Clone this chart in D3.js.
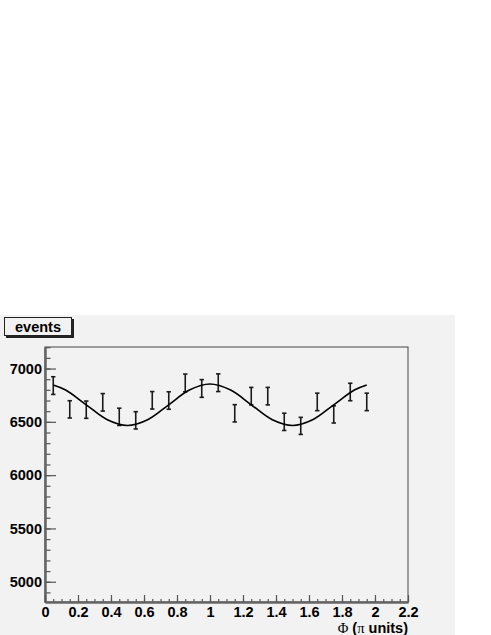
<!DOCTYPE html>
<html>
<head>
<meta charset="utf-8">
<script src="https://cdn.jsdelivr.net/npm/d3@7"></script>
<style>
  body { margin: 0; background: #fff; }
  text { font-family: "Liberation Sans", Arial, sans-serif; font-weight: bold; }
</style>
</head>
<body>
<script>
// data
const binCenters = [0.05, 0.15, 0.25, 0.35, 0.45, 0.55, 0.65, 0.75, 0.85, 0.95,
                    1.05, 1.15, 1.25, 1.35, 1.45, 1.55, 1.65, 1.75, 1.85, 1.95];
const events = [6840, 6617, 6614, 6683, 6547, 6514, 6702, 6700, 6865, 6813,
                6867, 6580, 6741, 6741, 6500, 6462, 6687, 6570, 6780, 6687];
const errors = [83, 81, 81, 82, 81, 81, 82, 82, 83, 83,
                83, 81, 82, 82, 81, 80, 82, 81, 82, 82];

// fitted curve
const fitX = [0.05, 0.125, 0.25, 0.375, 0.5, 0.625, 0.75, 0.875, 1.0,
              1.125, 1.25, 1.375, 1.5, 1.625, 1.75, 1.875, 1.95];
const fitY = [6845, 6798, 6660, 6522, 6465, 6522, 6660, 6798, 6855,
              6798, 6660, 6522, 6465, 6522, 6660, 6798, 6845];

const xTicks = [0, 0.2, 0.4, 0.6, 0.8, 1, 1.2, 1.4, 1.6, 1.8, 2, 2.2];
const yTicks = [5000, 5500, 6000, 6500, 7000];

// layout
const W = 491, H = 635;
const frame = {left: 45, right: 408, top: 347, bottom: 602};

const svg = d3.select("body").append("svg")
    .attr("width", W)
    .attr("height", H);

// pad
svg.append("rect")
    .attr("x", 0).attr("y", 315)
    .attr("width", 455).attr("height", 320)
    .attr("fill", "#f2f2f2");

var x = d3.scaleLinear().domain([0, 2.2]).range([frame.left, frame.right]);
var y = d3.scaleLinear().domain([4810, 7202]).range([frame.bottom, frame.top]);

// frame
svg.append("rect")
    .attr("x", frame.left).attr("y", frame.top)
    .attr("width", frame.right - frame.left)
    .attr("height", frame.bottom - frame.top)
    .attr("fill", "#f2f2f2")
    .attr("stroke", "#444")
    .attr("stroke-width", 1);

// y axis: minor then major
svg.append("g")
    .attr("class", "axis")
    .attr("transform", "translate(" + frame.left + ",0)")
    .call(d3.axisLeft(y).tickValues(d3.range(4900, 7201, 100)).tickSize(-5.5).tickSizeOuter(0).tickFormat(""));

svg.append("g")
    .attr("class", "axis")
    .attr("transform", "translate(" + frame.left + ",0)")
    .call(d3.axisLeft(y).tickValues(yTicks).tickSize(-11).tickSizeOuter(0).tickPadding(3)
        .tickFormat(d3.format("d")));

// x axis
svg.append("g")
    .attr("class", "axis")
    .attr("transform", "translate(0," + frame.bottom + ")")
    .call(d3.axisBottom(x).tickValues(d3.range(0, 2.2001, 0.05)).tickSize(-3).tickSizeOuter(0).tickFormat(""));

svg.append("g")
    .attr("class", "axis")
    .attr("transform", "translate(0," + frame.bottom + ")")
    .call(d3.axisBottom(x).tickValues(xTicks).tickSize(-7).tickSizeOuter(0).tickPadding(4.5)
        .tickFormat(d3.format("~g")));

svg.selectAll(".axis path.domain").attr("stroke", "#666").attr("stroke-width", 2);
svg.selectAll(".axis .tick line").attr("stroke", "#555").attr("stroke-width", 1.2);
svg.selectAll(".axis text")
    .attr("fill", "#000")
    .style("font-size", "14.5px")
    .style("font-family", "'Liberation Sans', Arial, sans-serif")
    .style("font-weight", "bold");

// axis title
var title = svg.append("text")
    .attr("x", frame.right)
    .attr("y", 633)
    .attr("text-anchor", "end")
    .style("font-size", "14.5px");
title.append("tspan").style("font-family", "'Liberation Serif', serif").style("font-weight", "normal").text("Φ");
title.append("tspan").text(" (");
title.append("tspan").style("font-family", "'Liberation Serif', serif").style("font-weight", "normal").text("π");
title.append("tspan").text(" units)");

// error bars
var bars = svg.append("g").attr("class", "bars")
    .selectAll("g")
    .data(binCenters)
    .enter()
    .append("g")
    .attr("stroke", "#1a1a1a")
    .attr("stroke-width", 1.6);

bars.append("line")
    .attr("x1", function(d) { return x(d); })
    .attr("x2", function(d) { return x(d); })
    .attr("y1", function(d, i) { return y(events[i] - errors[i]); })
    .attr("y2", function(d, i) { return y(events[i] + errors[i]); });

bars.append("line")
    .attr("x1", function(d) { return x(d) - 2.2; })
    .attr("x2", function(d) { return x(d) + 2.2; })
    .attr("y1", function(d, i) { return y(events[i] - errors[i]); })
    .attr("y2", function(d, i) { return y(events[i] - errors[i]); });

bars.append("line")
    .attr("x1", function(d) { return x(d) - 2.2; })
    .attr("x2", function(d) { return x(d) + 2.2; })
    .attr("y1", function(d, i) { return y(events[i] + errors[i]); })
    .attr("y2", function(d, i) { return y(events[i] + errors[i]); });

// fit line
var fitLine = d3.line()
    .x(function(d, i) { return x(fitX[i]); })
    .y(function(d) { return y(d); })
    .curve(d3.curveCatmullRom);

svg.append("path")
    .datum(fitY)
    .attr("d", fitLine)
    .attr("fill", "none")
    .attr("stroke", "#000")
    .attr("stroke-width", 1.6);

// title box with shadow
svg.append("rect")
    .attr("x", 6).attr("y", 319)
    .attr("width", 68).attr("height", 19)
    .attr("fill", "#222");
svg.append("rect")
    .attr("x", 4.5).attr("y", 317.5)
    .attr("width", 67).attr("height", 18)
    .attr("fill", "#f2f2f2")
    .attr("stroke", "#222")
    .attr("stroke-width", 1);
svg.append("text")
    .attr("x", 38).attr("y", 332)
    .attr("text-anchor", "middle")
    .style("font-size", "14.5px")
    .text("events");
</script>
</body>
</html>
